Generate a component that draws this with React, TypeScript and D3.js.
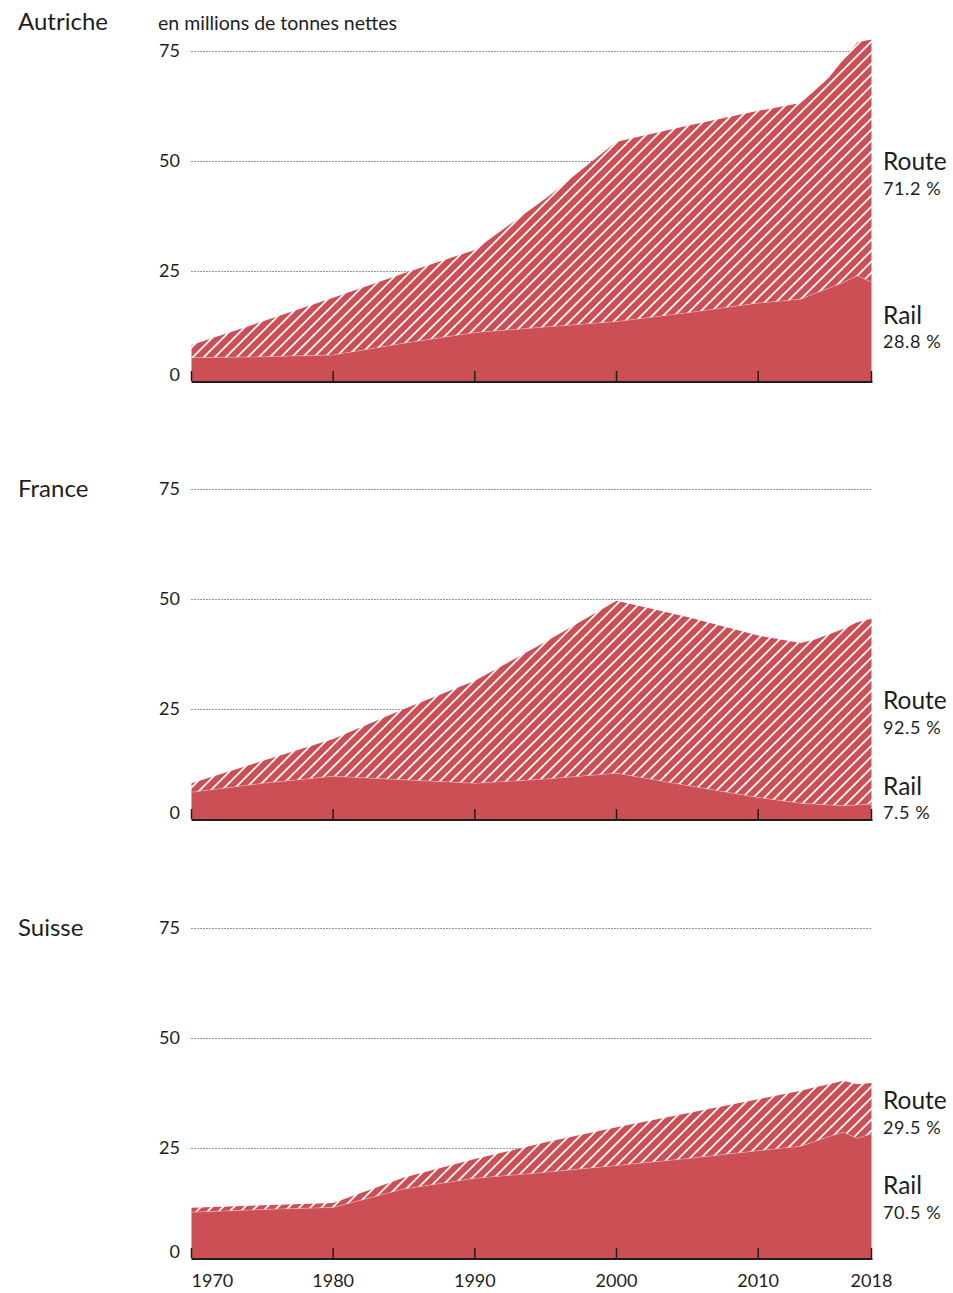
import React from "react";
import * as d3 from "d3";

// millions de tonnes nettes, transit alpin
const years = [1970, 1975, 1980, 1985, 1990, 1995, 2000, 2005, 2010, 2013, 2014, 2015, 2016, 2017, 2018];

const autricheTotal = [8.2, 13.5, 18.9, 24.5, 29.8, 41.5, 54.4, 58.0, 61.4, 63.2, 66.0, 69.0, 73.0, 77.0, 77.6];
const autricheRail = [5.3, 5.5, 5.9, 8.6, 11.0, 12.3, 13.5, 15.5, 17.7, 18.6, 19.9, 21.1, 22.4, 23.9, 22.5];

const franceTotal = [8.1, 13.2, 18.2, 25.0, 31.4, 40.3, 49.6, 45.9, 41.7, 40.0, 40.8, 42.0, 43.2, 44.7, 45.5];
const franceRail = [6.1, 8.1, 9.7, 8.9, 8.1, 9.1, 10.4, 7.6, 4.9, 3.6, 3.4, 3.2, 3.0, 3.2, 3.4];

const suisseTotal = [11.4, 12.0, 12.5, 18.3, 22.5, 26.3, 29.7, 32.9, 36.1, 38.0, 38.8, 39.5, 40.3, 39.5, 39.8];
const suisseRail = [10.4, 11.0, 11.5, 15.7, 18.1, 19.5, 21.0, 22.6, 24.4, 25.4, 26.5, 27.6, 28.6, 27.2, 28.2];

const countries = ["Autriche", "France", "Suisse"];
const totals = [autricheTotal, franceTotal, suisseTotal];
const rails = [autricheRail, franceRail, suisseRail];
const routeShares = ["71.2 %", "92.5 %", "29.5 %"];
const railShares = ["28.8 %", "7.5 %", "70.5 %"];
// value at which the side labels sit
const routeLabelAt = [49.8, 27, 35.7];
const railLabelAt = [15, 7.5, 16.4];

const yTicks = [0, 25, 50, 75];
const xTicks = [1970, 1980, 1990, 2000, 2010, 2018];

const RED = "#cc4f55";
const INK = "#1e1e1e";
const FONT = "Lato, 'Open Sans', sans-serif";

const width = 953;
const height = 1293;
const panelTops = [51, 489, 928];
const panelHeight = 330;

const x = d3.scaleLinear().domain([1970, 2018]).range([191.5, 871.5]);

const Panel = ({ i }: { i: number }) => {
  const top = panelTops[i];
  const y = d3.scaleLinear().domain([0, 75]).range([top + panelHeight, top]);
  const rows = years.map((yr, k) => ({ yr, total: totals[i][k], rail: rails[i][k] }));

  const railArea = d3
    .area<any>()
    .x((d) => x(d.yr))
    .y0(y(0))
    .y1((d) => y(d.rail));
  const routeArea = d3
    .area<any>()
    .x((d) => x(d.yr))
    .y0((d) => y(d.rail))
    .y1((d) => y(d.total));
  const railLine = d3
    .line<any>()
    .x((d) => x(d.yr))
    .y((d) => y(d.rail));

  const labelX = x(2018) + 11.5;
  const isLast = i === countries.length - 1;

  return (
    <g>
      <text x={18} y={i === 0 ? 22 : top} dy="0.35em" fontSize={24} fill={INK}>
        {countries[i]}
      </text>
      {i === 0 && (
        <text x={158} y={23} dy="0.35em" fontSize={19.5} fill={INK}>
          en millions de tonnes nettes
        </text>
      )}
      {yTicks.map((t) => (
        <g key={t}>
          {t > 0 && (
            <line
              x1={x(1970)}
              x2={x(2018)}
              y1={y(t) + 0.5}
              y2={y(t) + 0.5}
              stroke="#333"
              strokeWidth={1}
              strokeDasharray="1,2"
            />
          )}
          <text
            x={180}
            y={t === 0 ? y(t) - 6 : y(t)}
            dy="0.35em"
            textAnchor="end"
            fontSize={18}
            fill={INK}
          >
            {t}
          </text>
        </g>
      ))}
      <path d={routeArea(rows) ?? ""} fill="url(#hatch)" />
      <path d={railArea(rows) ?? ""} fill={RED} />
      <path d={railLine(rows) ?? ""} fill="none" stroke="rgba(255,255,255,0.35)" strokeWidth={0.8} />
      <line x1={x(1970)} x2={x(2018) + 1} y1={y(0) + 1} y2={y(0) + 1} stroke={INK} strokeWidth={2} />
      {xTicks.map((t) => (
        <line key={t} x1={x(t)} x2={x(t)} y1={y(0)} y2={y(0) - 10} stroke={INK} strokeWidth={1.5} />
      ))}
      {isLast &&
        xTicks.map((t, k) => (
          <text
            key={t}
            x={x(t)}
            y={y(0) + 23}
            dy="0.35em"
            textAnchor={k === 0 ? "start" : "middle"}
            fontSize={18}
            fill={INK}
          >
            {t}
          </text>
        ))}
      <text x={labelX} y={y(routeLabelAt[i])} dy="0.35em" fontSize={24.5} fill={INK}>
        Route
      </text>
      <text x={labelX} y={y(routeLabelAt[i]) + 27} dy="0.35em" fontSize={18} fill={INK} letterSpacing={0.6}>
        {routeShares[i]}
      </text>
      <text x={labelX} y={y(railLabelAt[i])} dy="0.35em" fontSize={24.5} fill={INK}>
        Rail
      </text>
      <text x={labelX} y={y(railLabelAt[i]) + 27} dy="0.35em" fontSize={18} fill={INK} letterSpacing={0.6}>
        {railShares[i]}
      </text>
    </g>
  );
};

export default function App() {
  return (
    <svg
      width={width}
      height={height}
      viewBox={`0 0 ${width} ${height}`}
      style={{ position: "absolute", left: 0, top: 0, fontFamily: FONT, background: "#fff" }}
    >
      <defs>
        <pattern id="hatch" patternUnits="userSpaceOnUse" width={11} height={11}>
          <rect width={11} height={11} fill={RED} />
          <path d="M-1,1 l2,-2 M0,11 l11,-11 M10,12 l2,-2" stroke="#fff" strokeWidth={1.7} />
        </pattern>
      </defs>
      {countries.map((c, i) => (
        <Panel key={c} i={i} />
      ))}
    </svg>
  );
}
